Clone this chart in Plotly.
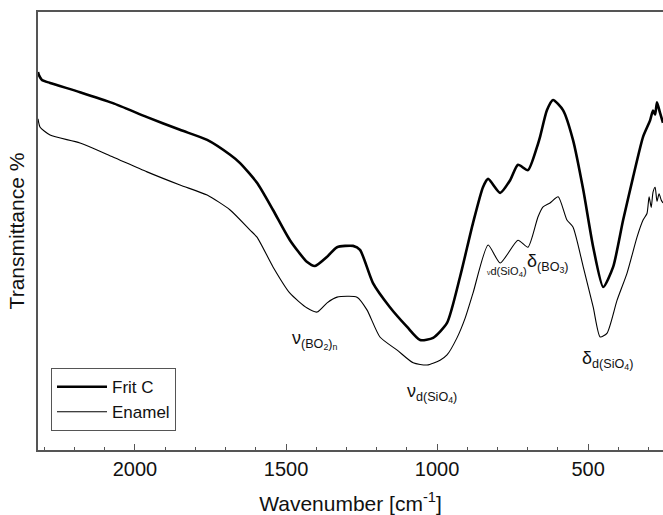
import plotly.graph_objects as go

# Frit C (thick line)
frit_wn = [2321, 2318, 2308, 2281, 2182, 2073, 1960, 1851, 1761, 1685, 1652, 1596, 1543, 1487,
           1430, 1404, 1364, 1331, 1278, 1255, 1212, 1156, 1099, 1056, 1013, 967, 924, 881,
           848, 831, 791, 758, 732, 699, 669, 659, 636, 616, 583, 550, 516, 483, 450, 417,
           384, 351, 318, 295, 285, 278, 272, 262, 252]
frit_t = [86.3, 85.6, 84.5, 83.8, 81.7, 79.2, 76.0, 73.1, 70.8, 67.4, 65.5, 61.0, 54.8, 47.9,
          42.9, 42.0, 44.1, 46.3, 46.6, 45.7, 38.1, 32.6, 28.1, 25.1, 25.6, 29.0, 39.5, 51.8,
          60.0, 61.9, 58.7, 61.6, 65.1, 63.9, 69.2, 71.5, 77.6, 79.9, 77.6, 70.8, 59.4, 46.3,
          37.2, 41.8, 52.5, 62.3, 71.5, 75.2, 77.5, 76.6, 79.4, 77.0, 74.7]

# Enamel (thin line)
enamel_wn = [2321, 2314, 2281, 2182, 2073, 1960, 1851, 1761, 1685, 1619, 1596, 1543, 1487,
             1430, 1397, 1364, 1331, 1265, 1232, 1189, 1132, 1079, 1033, 990, 967, 934, 907,
             881, 831, 791, 732, 699, 666, 649, 626, 599, 570, 550, 516, 483, 460, 437, 404,
             371, 338, 318, 305, 298, 291, 285, 278, 272, 265, 258, 252]
enamel_t = [75.6, 73.7, 71.9, 70.1, 66.9, 63.5, 60.5, 58.2, 54.8, 50.2, 48.6, 41.8, 35.8,
            32.4, 31.5, 33.6, 34.9, 34.9, 32.0, 25.8, 22.8, 19.9, 19.4, 20.5, 21.7, 25.6, 30.1,
            35.8, 46.8, 42.7, 47.9, 46.3, 53.2, 55.5, 56.4, 57.8, 52.5, 50.9, 41.8, 32.6, 25.8,
            26.7, 34.2, 40.4, 48.6, 52.5, 54.0, 57.8, 55.4, 58.9, 60.0, 56.8, 58.5, 57.1, 56.4]

series_names = ["Frit C", "Enamel"]

# Band labels
label_texts = [
    "ν<sub>(BO<sub>2</sub>)<sub>n</sub></sub>",
    "ν<sub>d(SiO<sub>4</sub>)</sub>",
    "<span style='font-size:7px'>ν</span>d(SiO<sub>4</sub>)",
    "δ<sub>(BO<sub>3</sub>)</sub>",
    "δ<sub>d(SiO<sub>4</sub>)</sub>",
]
label_wn = [1487, 1106, 841, 709, 526]
label_t = [25.1, 13.0, 40.6, 42.7, 20.5]
label_sizes = [18, 18, 11, 18, 18]

FONT = "Liberation Sans, Arial, sans-serif"
AXC = "#555555"

fig = go.Figure()
fig.add_trace(go.Scatter(x=frit_wn, y=frit_t, mode="lines", name=series_names[0],
                         line=dict(color="black", width=2.6, shape="spline", smoothing=0.6)))
fig.add_trace(go.Scatter(x=enamel_wn, y=enamel_t, mode="lines", name=series_names[1],
                         line=dict(color="black", width=1.1, shape="spline", smoothing=0.6)))

for txt, wx, ty, sz in zip(label_texts, label_wn, label_t, label_sizes):
    fig.add_annotation(x=wx, y=ty, text=txt, showarrow=False, xanchor="left", yanchor="middle",
                       font=dict(family=FONT, size=sz, color="#111111"))

fig.update_layout(
    width=663, height=515,
    margin=dict(l=38, r=0, t=12, b=65),
    paper_bgcolor="white", plot_bgcolor="white",
    font=dict(family=FONT, color="#111111"),
    showlegend=True,
    legend=dict(x=0.0208, y=0.043, xanchor="left", yanchor="bottom",
                bordercolor=AXC, borderwidth=1, bgcolor="white",
                font=dict(family=FONT, size=17, color="#111111"),
                itemwidth=50),
    xaxis=dict(range=[2321, 252], showgrid=False, zeroline=False,
               showline=True, linecolor=AXC, linewidth=1.5, mirror=True,
               ticks="inside", ticklen=6, tickwidth=1.2, tickcolor=AXC,
               tick0=0, dtick=500,
               minor=dict(ticks="inside", ticklen=3.5, tickwidth=1, tickcolor=AXC, dtick=100, tick0=0),
               tickfont=dict(family=FONT, size=20, color="#111111"),
               title=dict(text="Wavenumber [cm<sup>-1</sup>]", standoff=20,
                          font=dict(family=FONT, size=21, color="#111111"))),
    yaxis=dict(range=[0, 100], showgrid=False, zeroline=False,
               showline=True, linecolor=AXC, linewidth=1.5, mirror=False,
               showticklabels=False, ticks="",
               title=dict(text="Transmittance %", standoff=6,
                          font=dict(family=FONT, size=21, color="#111111"))),
)

fig.write_html("out.html")
